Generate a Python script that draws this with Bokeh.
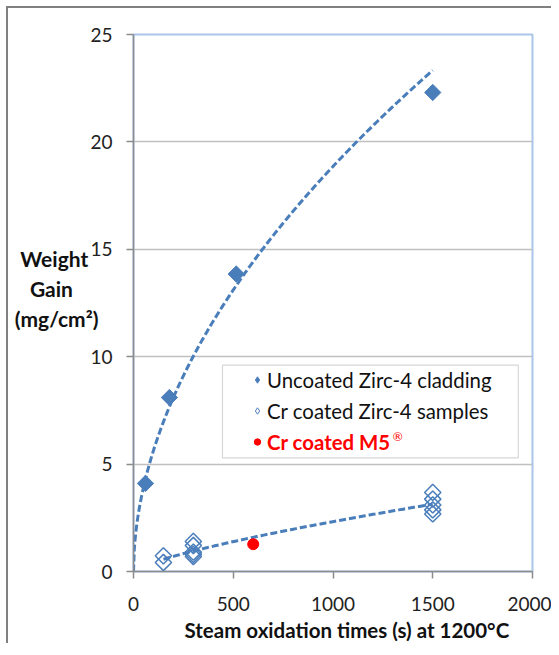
import numpy as np
from bokeh.plotting import figure
from bokeh.models import Range1d, FixedTicker, Legend, LegendItem, BoxAnnotation, Label, Title
from bokeh.embed import file_html
from bokeh.resources import INLINE

# ---- data ----
uncoated_t = [60, 180, 515, 1500]
uncoated_w = [4.1, 8.1, 13.85, 22.3]

cr_t = [150, 150, 300, 300, 300, 300, 300, 1500, 1500, 1500, 1500, 1500]
cr_w = [0.42, 0.73, 0.70, 0.80, 0.90, 1.21, 1.40, 2.68, 2.87, 3.10, 3.37, 3.68]

m5_t = [600]
m5_w = [1.27]

x_ticks = [0, 500, 1000, 1500, 2000]
y_ticks = [0, 5, 10, 15, 20, 25]
grid_ticks = [5, 10, 15, 20]

BLUE = "#4a7ebb"
FONT = "Lato"
NB = "\u00a0"


def power_fit(x, y):
    b, lna = np.polyfit(np.log(np.asarray(x, float)), np.log(np.asarray(y, float)), 1)
    return np.exp(lna), b


# power-law trendlines (as in the spreadsheet chart)
a1, b1 = power_fit(uncoated_t, uncoated_w)
tx1 = np.linspace(0, max(uncoated_t), 400)
ty1 = a1 * tx1 ** b1

a2, b2 = power_fit(cr_t, cr_w)
tx2 = np.linspace(min(cr_t), max(cr_t), 200)
ty2 = a2 * tx2 ** b2

p = figure(
    frame_width=399, frame_height=537,
    x_range=Range1d(0, 2000), y_range=Range1d(0, 25),
    output_backend="svg", toolbar_location=None,
    min_border_left=125, min_border_right=19, min_border_top=26, min_border_bottom=10,
    background_fill_color="white", border_fill_color="white",
)
p.margin = (6, 0, 0, 6)
p.styles = {"border-left": "2px solid #808080", "border-top": "2px solid #808080"}

p.outline_line_color = "#a9c6e8"
p.outline_line_width = 2

for ax, ticks in ((p.xaxis, x_ticks), (p.yaxis, y_ticks)):
    ax.ticker = FixedTicker(ticks=ticks)
    ax.axis_line_color = "#8c8c8c"
    ax.axis_line_width = 1.5
    ax.major_tick_line_color = "#8c8c8c"
    ax.major_tick_line_width = 1.5
    ax.major_tick_out = 7
    ax.major_tick_in = 0
    ax.minor_tick_line_color = None
    ax.major_label_text_font = FONT
    ax.major_label_text_font_size = "19px"
    ax.major_label_text_color = "#222222"
p.yaxis.major_label_standoff = 14
p.xaxis.major_label_standoff = 18

# y-axis title: horizontal, three centred lines
p.yaxis.axis_label = "Weight" + NB * 2 + "\nGain" + NB * 5 + "\n(mg/cm²)\n" + NB
p.yaxis.axis_label_orientation = "horizontal"
p.yaxis.axis_label_standoff = -11
p.yaxis.axis_label_text_font = FONT
p.yaxis.axis_label_text_font_size = "21px"
p.yaxis.axis_label_text_font_style = "bold"
p.yaxis.axis_label_text_color = "#111111"
p.yaxis.axis_label_text_align = "center"

# x-axis title
p.add_layout(Title(text="Steam oxidation times (s) at 1200°C", align="left", offset=51,
                   text_font=FONT, text_font_size="20.5px", text_font_style="bold",
                   text_color="#111111", standoff=4), "below")

p.xgrid.visible = False
p.ygrid.ticker = FixedTicker(ticks=grid_ticks)
p.ygrid.grid_line_color = "#c0c0c0"
p.ygrid.grid_line_width = 1.5

# trendlines
p.line(tx1, ty1, line_color=BLUE, line_width=3, line_dash="7 3")
p.line(tx2, ty2, line_color=BLUE, line_width=3, line_dash="7 3")

# markers
p.scatter(uncoated_t, uncoated_w, marker="square", angle=np.pi / 4, size=11.5,
          fill_color=BLUE, line_color=BLUE)
p.scatter(cr_t, cr_w, marker="square", angle=np.pi / 4, size=11.5,
          fill_alpha=0, line_color=BLUE, line_width=1.5)
r3 = p.scatter(m5_t, m5_w, marker="circle", size=11, fill_color="#ff0000", line_color="#ff0000")

# legend proxies (diamond symbols, no visible point)
k1 = p.scatter([np.nan], [np.nan], marker="diamond", size=13, fill_color=BLUE, line_color=BLUE)
k2 = p.scatter([np.nan], [np.nan], marker="diamond", size=13, fill_color="white",
               line_color=BLUE, line_width=1)

# legend frame
box = BoxAnnotation(left=446, right=1929, top=9.61, bottom=5.29,
                    fill_color="white", fill_alpha=1.0,
                    line_color="#7a7a7a", line_width=1.2)
p.add_layout(box)

common = dict(border_line_alpha=0, background_fill_alpha=0, padding=0, margin=0,
              spacing=6, glyph_width=16, glyph_height=25, label_height=25,
              label_standoff=2, label_text_font=FONT, label_text_font_size="20.4px")

leg1 = Legend(items=[LegendItem(label="Uncoated Zirc-4 cladding", renderers=[k1]),
                     LegendItem(label="Cr coated Zirc-4 samples", renderers=[k2])],
              location=(116, 148), label_text_color="#111111", **common)
leg2 = Legend(items=[LegendItem(label="Cr coated M5", renderers=[r3])],
              location=(116, 117), label_text_color="#ff0000",
              label_text_font_style="bold", **common)
p.add_layout(leg1)
p.add_layout(leg2)

p.add_layout(Label(x=1325, y=6.27, text="®", text_font=FONT, text_font_size="12px",
                   text_color="#ff0000", text_align="center", text_baseline="middle"))

open("out.html", "w").write(file_html(p, INLINE))
